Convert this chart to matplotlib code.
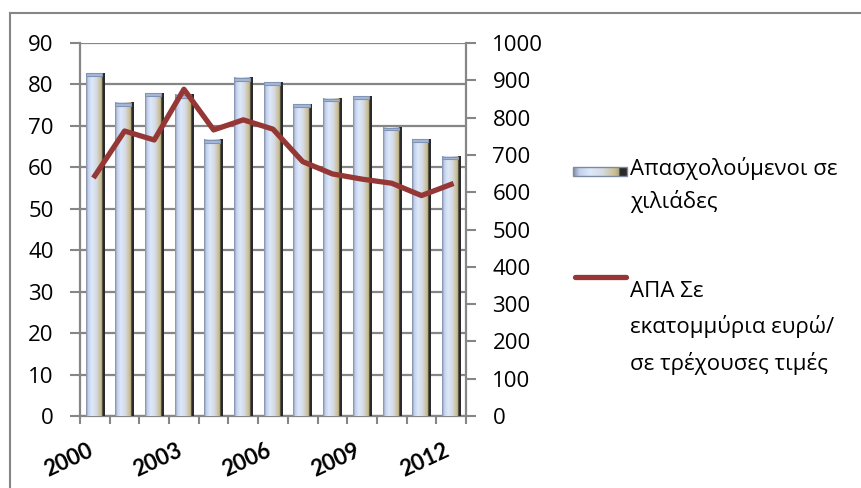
import matplotlib
matplotlib.use('Agg')
import matplotlib.pyplot as plt
import numpy as np
from matplotlib.colors import LinearSegmentedColormap
from matplotlib.patches import Rectangle

# dedomena
years = list(range(2000, 2013))
apasx = [82.7, 75.6, 77.9, 77.5, 66.6, 81.6, 80.5, 75.2, 76.6, 77.1, 69.6, 66.8, 62.6]
apa = [644, 764, 740, 876, 767, 794, 769, 682, 649, 635, 624, 591, 621]
lab_years = ['2000', '2003', '2006', '2009', '2012']
lab_bar = ['Απασχολούμενοι σε', 'χιλιάδες']
lab_line = ['ΑΠΑ Σε', 'εκατομμύρια ευρώ/', 'σε τρέχουσες τιμές']

plt.rcParams['font.family'] = ['Open Sans', 'DejaVu Sans']
fs = 16
grey = '#868686'
red = '#953735'

# gradient ton rabdon
cmap = LinearSegmentedColormap.from_list('bar', [
    (0.0, '#7d8aa0'), (0.12, '#c3d1ec'), (0.32, '#dde8fb'), (0.55, '#d5dbe3'),
    (0.78, '#c9bd92'), (0.85, '#b3a77e'), (0.87, '#2a2a2a'), (1.0, '#2a2a2a')])
grad = np.linspace(0, 1, 256).reshape(1, -1)

fig = plt.figure(figsize=(8.61, 4.88), dpi=100)
ax = fig.add_axes([80/861, 1-416/488, 386/861, 373/488])
ax2 = ax.twinx()

x = np.arange(len(years))
w = 0.62
for xi, h in zip(x, apasx):
    ax.imshow(grad, cmap=cmap, extent=[xi-w/2, xi+w/2, 0, h], aspect='auto',
              zorder=3, interpolation='bilinear')
    ax.add_patch(Rectangle((xi-w/2, h-0.7), w*0.87, 0.7, fc='#a8b8d6',
                           ec='#8094b8', lw=0.8, zorder=4))

ax.set_xlim(-0.5, len(years)-0.5)
ax.set_ylim(0, 90)
ax.set_yticks(np.arange(0, 91, 10))
ax.grid(axis='y', color=grey, lw=1.6, zorder=0)
ax.set_axisbelow(True)

# etiketes eton, peristrammenes
ax.set_xticks(np.arange(-0.5, len(years)), minor=True)
ax.set_xticks([])
for t in lab_years:
    ax.annotate(t, (years.index(int(t)) + 0.05, 0), xytext=(0, -17),
                textcoords='offset points', rotation=25, ha='right', va='top',
                fontweight='bold', fontsize=fs, family=['Lato', 'DejaVu Sans'],
                annotation_clip=False)
ax.tick_params(axis='x', which='minor', length=6, width=1.5, color=grey)
ax.tick_params(axis='y', length=7, width=1.5, color=grey, pad=12, labelsize=fs)

for s in ['top', 'right']:
    ax.spines[s].set_visible(False)
for s in ['left', 'bottom']:
    ax.spines[s].set_color(grey)
    ax.spines[s].set_linewidth(1.6)

ax2.plot(x, apa, color=red, lw=3.8, solid_joinstyle='round', zorder=5)
ax2.set_ylim(0, 1000)
ax2.set_yticks(np.arange(0, 1001, 100))
ax2.tick_params(axis='y', length=7, width=1.5, color=grey, pad=12, labelsize=fs)
for s in ['top', 'left', 'bottom']:
    ax2.spines[s].set_visible(False)
ax2.spines['right'].set_color(grey)
ax2.spines['right'].set_linewidth(1.6)

# ypomnima
lax = fig.add_axes([0, 0, 1, 1], zorder=10)
lax.axis('off')
lax.imshow(grad, cmap=cmap, extent=[573, 627, 176, 167], aspect='auto')
lax.add_patch(Rectangle((573, 167), 54, 9, fill=False, ec='#7d8aa0', lw=1))
lax.set_xlim(0, 861)
lax.set_ylim(488, 0)
lax.plot([575, 626], [277, 277], color=red, lw=3.8, solid_capstyle='round')
for i, t in enumerate(lab_bar):
    lax.text(630, 175 + i*33, t, fontsize=fs, va='baseline', ha='left')
for i, t in enumerate(lab_line):
    lax.text(630, 297 + i*36.5, t, fontsize=fs, va='baseline', ha='left')

# plaisio
lax.plot([10, 861], [13, 13], color=grey, lw=1.5, clip_on=False)
lax.plot([10, 10], [13, 488], color=grey, lw=1.5, clip_on=False)

plt.savefig('out.png', dpi=100)
